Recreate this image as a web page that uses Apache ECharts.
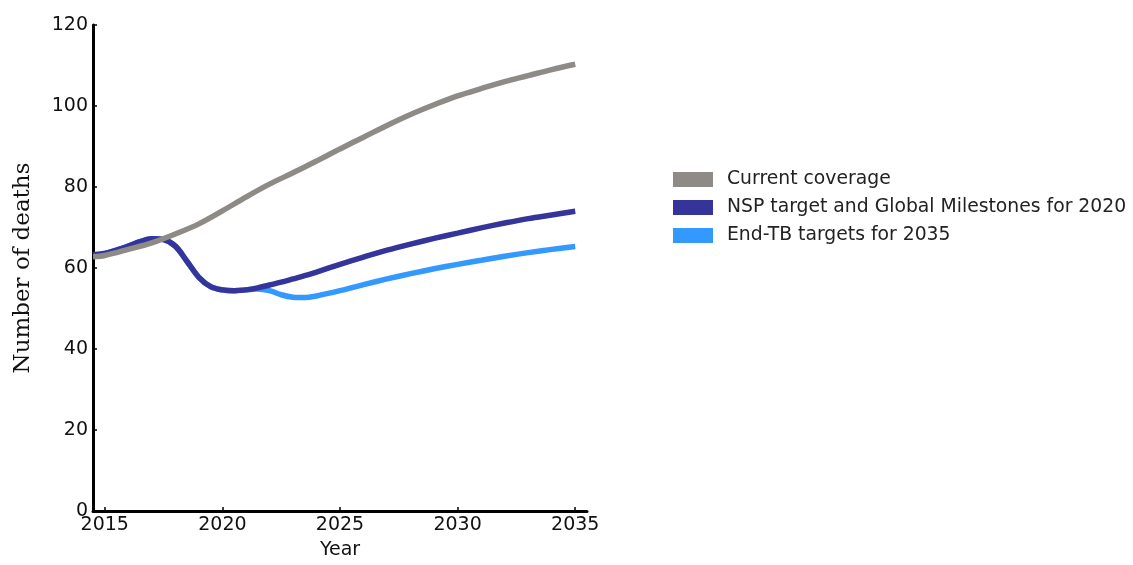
<!DOCTYPE html>
<html>
<head>
<meta charset="utf-8">
<script src="https://cdn.jsdelivr.net/npm/echarts@6/dist/echarts.min.js"></script>
<style>html,body{margin:0;padding:0;background:#fff;overflow:hidden}#c{width:1133px;height:565px}</style>
</head>
<body>
<div id="c"></div>
<script>
const seriesNames = ['Current coverage', 'NSP target and Global Milestones for 2020', 'End-TB targets for 2035'];
const xTicks = [2015, 2020, 2025, 2030, 2035];
const yTicks = [0, 20, 40, 60, 80, 100, 120];

const currentCoverage = [
  [2014.5, 62.8], [2015, 63.1], [2016, 64.6], [2017, 66.2], [2018, 68.4], [2019, 70.9],
  [2020, 74.1], [2021, 77.5], [2022, 80.7], [2023, 83.5], [2024, 86.4], [2025, 89.4],
  [2026, 92.3], [2027, 95.2], [2028, 97.9], [2029, 100.3], [2030, 102.5], [2031, 104.3],
  [2032, 106.0], [2033, 107.5], [2034, 109.0], [2035, 110.3]
];
const nspTarget = [
  [2014.5, 63.3], [2015, 63.6], [2015.5, 64.4], [2016, 65.4], [2016.5, 66.5], [2017, 67.2],
  [2017.5, 67.0], [2018, 65.4], [2018.5, 61.6], [2019, 57.7], [2019.5, 55.4], [2020, 54.6],
  [2020.5, 54.4], [2021, 54.6], [2021.5, 55.1], [2022, 55.8], [2022.5, 56.5], [2023, 57.3],
  [2023.5, 58.1], [2024, 59.0], [2025, 60.9], [2026, 62.7], [2027, 64.4], [2028, 65.9],
  [2029, 67.3], [2030, 68.6], [2031, 69.9], [2032, 71.1], [2033, 72.2], [2034, 73.1], [2035, 74.0]
];
const endTB = [
  [2014.5, 63.3], [2015, 63.6], [2015.5, 64.4], [2016, 65.4], [2016.5, 66.5], [2017, 67.2],
  [2017.5, 67.0], [2018, 65.4], [2018.5, 61.6], [2019, 57.7], [2019.5, 55.4], [2020, 54.6],
  [2020.5, 54.4], [2021, 54.6], [2021.5, 54.8], [2022, 54.4], [2022.5, 53.4], [2023, 52.8],
  [2023.5, 52.7], [2024, 53.1], [2025, 54.4], [2026, 55.9], [2027, 57.3], [2028, 58.6],
  [2029, 59.8], [2030, 60.9], [2031, 61.9], [2032, 62.9], [2033, 63.8], [2034, 64.6], [2035, 65.3]
];

const colors = ['#8e8b86', '#34349a', '#3399ff'];

const chart = echarts.init(document.getElementById('c'), null, {renderer: 'canvas'});
const lineSeries = (name, data, color, z) => ({
  name, type: 'line', data, smooth: 0.35, showSymbol: false, symbol: 'none',
  lineStyle: {color, width: 5.5}, itemStyle: {color}, z, animation: false
});
chart.setOption({
  animation: false,
  backgroundColor: '#fff',
  grid: {left: 93, right: 546, top: 25, bottom: 47, containLabel: false},
  legend: {
    orient: 'vertical', left: 668, top: 165, icon: 'rect',
    itemWidth: 40, itemHeight: 15, itemGap: 9,
    textStyle: {fontFamily: 'DejaVu Sans', fontSize: 18.8, color: '#222', padding: [0, 0, 0, 9]},
    data: seriesNames
  },
  xAxis: {
    type: 'value', min: 2014.5, max: 2035.5,
    name: 'Year', nameLocation: 'middle', nameGap: 30,
    nameTextStyle: {fontFamily: 'DejaVu Sans', fontSize: 19, color: '#111'},
    axisLine: {show: true, onZero: false, lineStyle: {color: '#000', width: 3}},
    axisTick: {show: true, inside: true, length: 4, lineStyle: {color: '#000', width: 1.5}, customValues: xTicks},
    axisLabel: {fontFamily: 'DejaVu Sans', fontSize: 19, color: '#111', margin: 5, customValues: xTicks,
      formatter: v => String(v)},
    splitLine: {show: false}
  },
  yAxis: {
    type: 'value', min: 0, max: 120, interval: 20,
    name: 'Number of deaths', nameLocation: 'middle', nameGap: 58, nameRotate: 90,
    nameTextStyle: {fontFamily: 'DejaVu Serif', fontSize: 23, color: '#111'},
    axisLine: {show: true, lineStyle: {color: '#000', width: 3}},
    axisTick: {show: true, inside: true, length: 4, lineStyle: {color: '#000', width: 1.5}},
    axisLabel: {fontFamily: 'DejaVu Sans', fontSize: 19, color: '#111', margin: 5,
      formatter: v => yTicks.includes(v) ? String(v) : ''},
    splitLine: {show: false}
  },
  series: [
    lineSeries(seriesNames[2], endTB, colors[2], 2),
    lineSeries(seriesNames[1], nspTarget, colors[1], 3),
    lineSeries(seriesNames[0], currentCoverage, colors[0], 4)
  ]
});
</script>
</body>
</html>
